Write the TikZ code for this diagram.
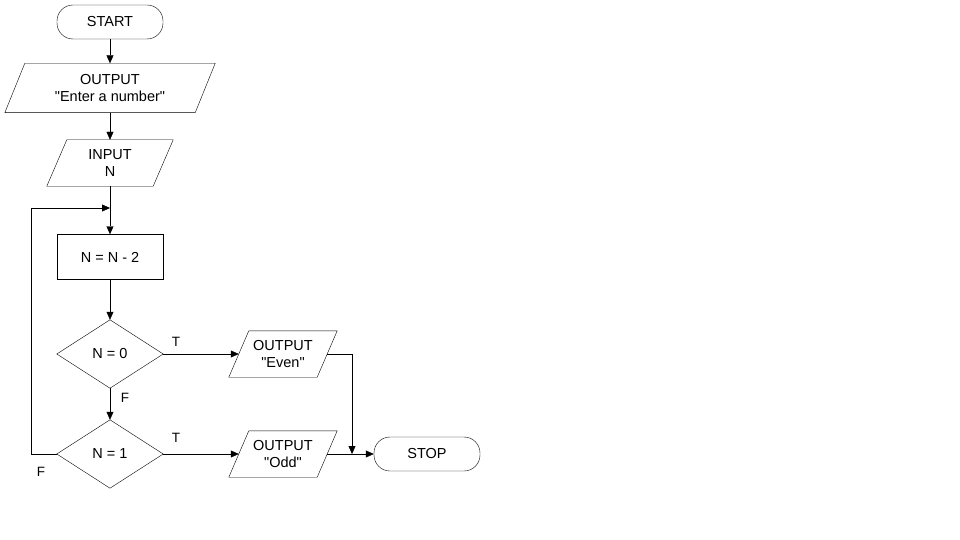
\documentclass[tikz,border=0pt]{standalone}
\usepackage{fontspec}
\setmainfont[Ligatures=NoCommon,Mapping=]{Liberation Sans}
\usetikzlibrary{arrows.meta}
\newcommand{\qq}{{\char34}}
\begin{document}
\begin{tikzpicture}[x=1pt,y=-1pt,
  every node/.style={font=\fontsize{14.5}{16.5}\selectfont,align=center},
  term/.style={draw,rounded corners=16pt,minimum width=106pt,minimum height=34pt,inner sep=0pt},
  proc/.style={draw,minimum width=106pt,minimum height=45pt,inner sep=0pt},
  io/.style={minimum height=#1,inner sep=0pt},
  dec/.style={inner sep=0pt,minimum width=106pt,minimum height=68pt},
  arr/.style={-{Triangle[length=8pt,width=7pt]}},
  lbl/.style={font=\fontsize{13.5}{15}\selectfont}]
\useasboundingbox (0,0) rectangle (960,540);
\newcommand{\para}[2]{\draw ([xshift=#2/2]#1.north west)--([xshift=#2/2]#1.north east)--([xshift=-#2/2]#1.south east)--([xshift=-#2/2]#1.south west)--cycle;}
\node[term] (start) at (110,22) {START};
\node[io=49pt,minimum width=190pt] (out1) at (110,88) {OUTPUT\\\qq Enter a number\qq};
\para{out1}{20pt}
\node[io=46pt,minimum width=106pt] (inp) at (110,163) {INPUT\\N};
\para{inp}{20pt}
\node[proc] (calc) at (110,257) {N = N - 2};
\node[dec] (d0) at (110,354) {N = 0};
\draw (d0.north)--(d0.east)--(d0.south)--(d0.west)--cycle;
\node[dec] (d1) at (110,454) {N = 1};
\draw (d1.north)--(d1.east)--(d1.south)--(d1.west)--cycle;
\node[io=46pt,minimum width=88pt] (even) at (283,354) {OUTPUT\\\qq Even\qq};
\para{even}{20pt}
\node[io=46pt,minimum width=88pt] (odd) at (283,454) {OUTPUT\\\qq Odd\qq};
\para{odd}{20pt}
\node[term] (stop) at (427,454) {STOP};
\coordinate (loopin) at (110,208);
\coordinate (la) at (31,454);
\coordinate (lb) at (31,208);
\coordinate (ea) at (352,354);
\coordinate (eb) at (352,454);
\draw[arr] (start)--(out1);
\draw[arr] (out1)--(inp);
\draw[arr] (inp)--(calc);
\draw[arr] (calc)--(d0);
\draw[arr] (d0)--(d1);
\draw[arr] (d0.east)--(even.west);
\draw[arr] (d1.east)--(odd.west);
\draw[arr] (odd.east)--(stop.west);
\draw (even.east)--(ea);
\draw[arr] (ea)--(eb);
\draw[arr] (d1.west)--(la)--(lb)--(loopin);
\node[lbl] (t0) at (176,342) {T};
\node[lbl] (f0) at (125,398) {F};
\node[lbl] (t1) at (176,438) {T};
\node[lbl] (f1) at (41,472) {F};
\end{tikzpicture}
\end{document}
